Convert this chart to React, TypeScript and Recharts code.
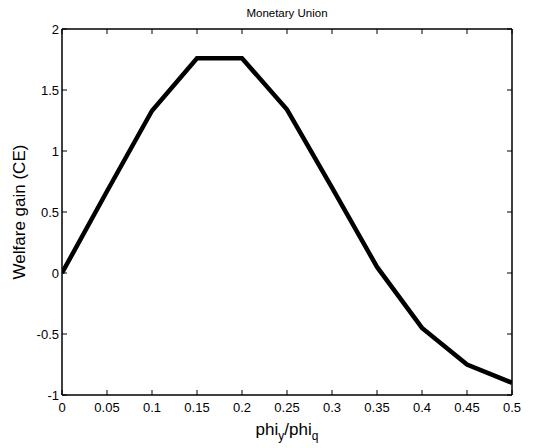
import { Label, Line, LineChart, XAxis, YAxis } from "recharts";

const ratio = [0, 0.05, 0.1, 0.15, 0.2, 0.25, 0.3, 0.35, 0.4, 0.45, 0.5];
const welfareGain = [0, 0.67, 1.33, 1.76, 1.76, 1.34, 0.7, 0.05, -0.45, -0.75, -0.9];
const xTicks = [0, 0.05, 0.1, 0.15, 0.2, 0.25, 0.3, 0.35, 0.4, 0.45, 0.5];
const yTicks = [-1, -0.5, 0, 0.5, 1, 1.5, 2];

const data = ratio.map((r, i) => ({ r, gain: welfareGain[i] }));

const font = "'Liberation Sans', Arial, Helvetica, sans-serif";
const axisStroke = { stroke: "#000", strokeWidth: 1.5 };

function BottomTick({ x, y, payload }: any) {
  return (
    <g>
      <line x1={x} y1={y} x2={x} y2={y - 5} stroke="#000" />
      <text x={x} y={y + 17} textAnchor="middle" fontSize={13} fontFamily={font} fill="#000">
        {String(payload.value)}
      </text>
    </g>
  );
}

function TopTick({ x, y }: any) {
  return <line x1={x} y1={y} x2={x} y2={y + 5} stroke="#000" />;
}

function LeftTick({ x, y, payload }: any) {
  return (
    <g>
      <line x1={x} y1={y} x2={x + 5} y2={y} stroke="#000" />
      <text x={x - 3} y={y + 4.5} textAnchor="end" fontSize={13} fontFamily={font} fill="#000">
        {String(payload.value)}
      </text>
    </g>
  );
}

function RightTick({ x, y }: any) {
  return <line x1={x} y1={y} x2={x - 5} y2={y} stroke="#000" />;
}

export default function App() {
  return (
    <div style={{ position: "absolute", left: 0, top: 0, background: "#fff" }}>
      <LineChart width={542} height={448} data={data} margin={{ top: 28, right: 29, bottom: 0, left: 0 }}>
        <XAxis
          dataKey="r"
          type="number"
          domain={[0, 0.5]}
          ticks={xTicks}
          height={53}
          tickSize={0}
          tickMargin={0}
          tickLine={false}
          tick={<BottomTick />}
          axisLine={axisStroke}
          allowDataOverflow
        >
          <Label
            content={({ viewBox }: any) => (
              <text x={viewBox.x + viewBox.width / 2} y={viewBox.y + 40} textAnchor="middle" fontSize={17} fontFamily={font} fill="#000">
                phi<tspan fontSize={12} dy={5}>y</tspan>
                <tspan dy={-5}>/phi</tspan>
                <tspan fontSize={12} dy={5}>q</tspan>
              </text>
            )}
          />
        </XAxis>
        <XAxis
          xAxisId="top"
          dataKey="r"
          type="number"
          orientation="top"
          domain={[0, 0.5]}
          ticks={xTicks}
          height={1}
          tickSize={0}
          tickMargin={0}
          tickLine={false}
          tick={<TopTick />}
          axisLine={axisStroke}
          allowDataOverflow
        >
          <Label
            content={() => (
              <text x={287} y={17} textAnchor="middle" fontSize={11.5} fontFamily={font} fill="#000">
                Monetary Union
              </text>
            )}
          />
        </XAxis>
        <YAxis
          type="number"
          domain={[-1, 2]}
          ticks={yTicks}
          width={62}
          tickSize={0}
          tickMargin={0}
          tickLine={false}
          tick={<LeftTick />}
          axisLine={axisStroke}
          allowDataOverflow
        >
          <Label
            content={({ viewBox }: any) => {
              const cx = 25;
              const cy = viewBox.y + viewBox.height / 2;
              return (
                <text x={cx} y={cy} transform={`rotate(-90 ${cx} ${cy})`} textAnchor="middle" fontSize={17} fontFamily={font} fill="#000">
                  Welfare gain (CE)
                </text>
              );
            }}
          />
        </YAxis>
        <YAxis
          yAxisId="right"
          type="number"
          orientation="right"
          domain={[-1, 2]}
          ticks={yTicks}
          width={1}
          tickSize={0}
          tickMargin={0}
          tickLine={false}
          tick={<RightTick />}
          axisLine={axisStroke}
          allowDataOverflow
        />
        <Line
          type="linear"
          dataKey="gain"
          stroke="#000"
          strokeWidth={4.5}
          dot={false}
          isAnimationActive={false}
        />
      </LineChart>
    </div>
  );
}
